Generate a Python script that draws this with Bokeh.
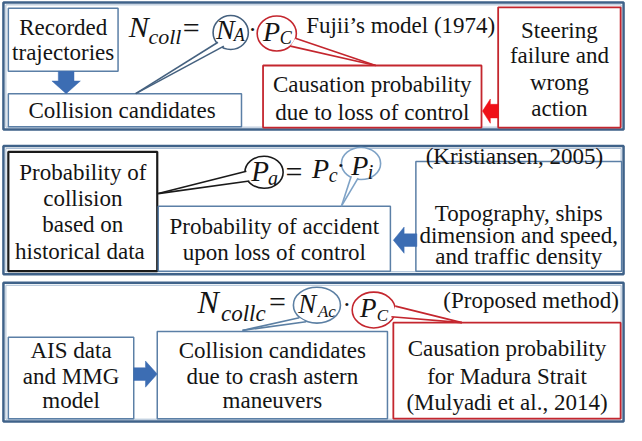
import math
from bokeh.plotting import figure
from bokeh.models import Range1d
from bokeh.core.properties import value
from bokeh.embed import file_html
from bokeh.resources import INLINE

SERIF = value("Liberation Serif")
TXT = "#141414"
BLUE = "#5b7fa6"
DARK = "#3f6289"
RED = "#c4262e"
BLACK = "#1a1a1a"
ARROW_BLUE = "#3c6db3"
ARROW_RED = "#f01018"

# ---- panels (left, top, right, bottom) ----
panel_left = [5, 5, 5]
panel_top = [3, 151, 292]
panel_right = [638, 638, 638]
panel_bottom = [134, 283, 435]

# ---- boxes ----
box_left = [10, 10, 270, 510, 10, 163, 426, 10, 162, 403]
box_top = [9, 97, 68, 8, 157, 213, 167, 348, 342, 333]
box_right = [122, 248, 493, 635, 162, 400, 636, 138, 397, 635]
box_bottom = [74, 131, 132, 132, 280, 280, 280, 432, 432, 432]
box_color = [BLUE, BLUE, RED, RED, BLACK, BLUE, BLUE, BLUE, BLUE, RED]
box_lw = [1.5, 1.5, 1.8, 1.8, 2.2, 1.5, 1.5, 1.5, 1.5, 1.8]
box_lines = [
    ["Recorded", "trajectories"],
    ["Collision  candidates"],
    ["Causation probability", "due to loss of control"],
    ["Steering", "failure and", "wrong", "action"],
    ["Probability of", "collision", "based on", "historical  data"],
    ["Probability of accident", "upon loss of control"],
    ["Topography, ships", "dimension and speed,", "and traffic density"],
    ["AIS data", "and MMG", "model"],
    ["Collision candidates", "due to crash astern", "maneuvers"],
    ["Causation probability", "for Madura Strait", "(Mulyadi et al., 2014)"],
]
box_line_y = [
    [29, 55], [114], [88, 116], [32, 58, 85, 112],
    [178, 205, 232, 260], [234, 261], [221, 243, 265],
    [362, 388, 413], [362, 388, 413], [360, 388, 415],
]

# ---- captions ----
cap_text = ["Fujii\u2019s model (1974)", "(Kristiansen, 2005)", "(Proposed method)"]
cap_x = [314, 436, 454]
cap_y = [27, 162, 310]

# ---- callout ellipses ----
ell_x = [237, 284, 271, 370, 325, 383]
ell_y = [34, 35, 178, 169, 315, 320]
ell_w = [36, 40, 39, 40, 48, 44]
ell_h = [35, 36, 33, 33, 37, 37]
ell_color = ["#45617f", RED, BLACK, "#7ea2c6", "#5b7fa3", RED]
# tails: base point A, base point B, tip
tail_a = [(224, 44), (303, 40), (253, 177), (360, 182), (307, 328), (405, 316)]
tail_b = [(230, 48), (298, 48), (256, 187), (367, 184), (314, 332), (401, 327)]
tail_tip = [(140, 97), (385, 68), (163, 200), (350, 213), (249, 341), (473, 333)]

# ---- block arrows ----
arrow_from = [(69, 74), (510, 115), (427, 248), (138, 386)]
arrow_to = [(69, 97), (494, 115), (403, 248), (162, 386)]
arrow_shaft = [16, 14, 13, 13]
arrow_head = [29, 25, 27, 27]
arrow_head_len = [13, 8, 11, 12]
arrow_color = [ARROW_BLUE, ARROW_RED, ARROW_BLUE, ARROW_BLUE]

# ---- formula pieces: text, x (left), middle y, size px, italic ----
f_text = ["N", "coll", "=", "N", "A", "\u00b7", "P", "C",
          "P", "a", "=", "P", "c", "\u00b7", "P", "i",
          "N", "collc", "=", "N", "Ac", "\u00b7", "P", "C"]
f_x = [133, 153, 188, 222, 240, 255, 270, 287,
       258, 275, 293, 320, 337, 345, 360, 377,
       203, 227, 276, 306, 326, 351, 369, 386]
f_y = [28, 38, 29, 31, 37, 31, 33, 40,
       177, 184, 177, 174, 181, 171, 171, 178,
       312, 324, 311, 314, 322, 314, 318, 326]
f_size = [30, 22, 30, 28, 18, 26, 28, 18,
          29, 20, 30, 28, 20, 26, 28, 20,
          32, 23, 30, 27, 17, 26, 27, 17]
f_italic = [1, 1, 0, 1, 1, 0, 1, 1,
            1, 1, 0, 1, 1, 0, 1, 1,
            1, 1, 0, 1, 1, 0, 1, 1]

p = figure(width=626, height=425, output_backend="svg", toolbar_location=None,
           x_range=Range1d(2, 641), y_range=Range1d(439, 1),
           x_axis_type=None, y_axis_type=None, min_border=0,
           background_fill_color="white", border_fill_color="white")
p.grid.visible = False
p.outline_line_color = None

# panel frames (double line)
p.quad(left=panel_left, right=panel_right, top=panel_top, bottom=panel_bottom,
       fill_color=None, line_color=DARK, line_width=2.5)
p.quad(left=[v + 2.5 for v in panel_left], right=[v - 2.5 for v in panel_right],
       top=[v + 2.5 for v in panel_top], bottom=[v - 2.5 for v in panel_bottom],
       fill_color=None, line_color="#a9bdd3", line_width=1)

# boxes
p.quad(left=box_left, right=box_right, top=box_top, bottom=box_bottom,
       fill_color="white", line_color=box_color, line_width=box_lw)

# ellipses
p.ellipse(x=ell_x, y=ell_y, width=ell_w, height=ell_h, fill_color="white",
          line_color=ell_color, line_width=1.6)

# callout tails
for a, b, t, c in zip(tail_a, tail_b, tail_tip, ell_color):
    p.patch(x=[a[0], t[0], b[0]], y=[a[1], t[1], b[1]], fill_color="white", line_color=None)
    p.segment(x0=[a[0], b[0]], y0=[a[1], b[1]], x1=[t[0], t[0]], y1=[t[1], t[1]],
              line_color=c, line_width=1.6)

# block arrows
for f, t, sw, hw, hl, c in zip(arrow_from, arrow_to, arrow_shaft, arrow_head, arrow_head_len, arrow_color):
    dx, dy = t[0] - f[0], t[1] - f[1]
    L = math.hypot(dx, dy)
    ux, uy = dx / L, dy / L
    nx, ny = -uy, ux
    bx, by = t[0] - ux * hl, t[1] - uy * hl
    pts = [
        (f[0] + nx * sw / 2, f[1] + ny * sw / 2),
        (bx + nx * sw / 2, by + ny * sw / 2),
        (bx + nx * hw / 2, by + ny * hw / 2),
        (t[0], t[1]),
        (bx - nx * hw / 2, by - ny * hw / 2),
        (bx - nx * sw / 2, by - ny * sw / 2),
        (f[0] - nx * sw / 2, f[1] - ny * sw / 2),
    ]
    p.patch(x=[q[0] for q in pts], y=[q[1] for q in pts], fill_color=c, line_color=c, line_width=0.5)

# captions
p.text(x=cap_x, y=cap_y, text=cap_text, text_font=SERIF, text_font_size="23px", text_color=TXT,
       text_align="left", text_baseline="middle")

# box texts
tx, ty, tt = [], [], []
for l, r, lines, ys in zip(box_left, box_right, box_lines, box_line_y):
    for s, yy in zip(lines, ys):
        tx.append((l + r) / 2)
        ty.append(yy)
        tt.append(s)
p.text(x=tx, y=ty, text=tt, text_font=SERIF, text_font_size="23px", text_color=TXT,
       text_align="center", text_baseline="middle")

# formula
for s, x, y, sz, it in zip(f_text, f_x, f_y, f_size, f_italic):
    p.text(x=[x], y=[y], text=[s], text_font=SERIF, text_font_size=f"{sz}px",
           text_font_style="italic" if it else "normal", text_color=TXT,
           text_align="left", text_baseline="middle")

open("out.html", "w").write(file_html(p, INLINE))
